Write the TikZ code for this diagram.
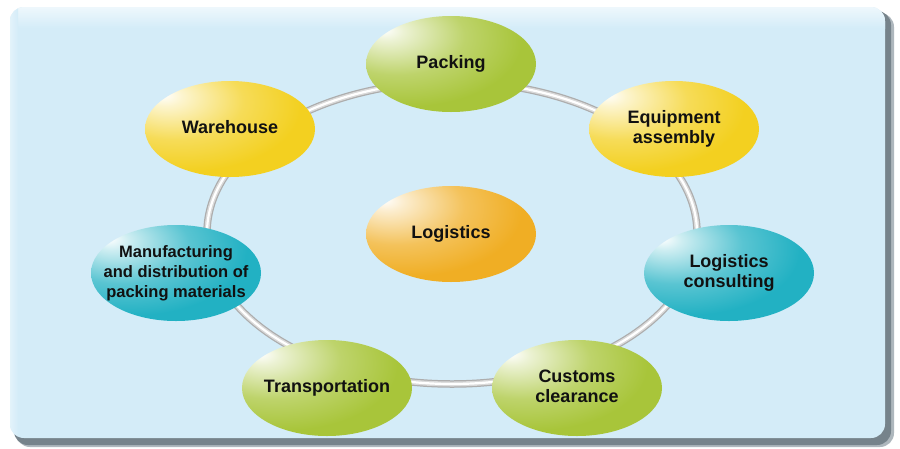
\documentclass[tikz,border=0pt]{standalone}
\usepackage{fontspec}
\setmainfont{Liberation Sans}
\usetikzlibrary{shapes.geometric}
\definecolor{cgreen}{HTML}{A8C53A}
\definecolor{cyellow}{HTML}{F3D020}
\definecolor{cteal}{HTML}{22B1C3}
\definecolor{corange}{HTML}{F0AE24}
\definecolor{panel}{HTML}{D4ECF8}
\definecolor{txt}{HTML}{111111}
\definecolor{shadowA}{HTML}{AEB7BD}
\definecolor{shadowB}{HTML}{76838B}
\pgfdeclareradialshading{glossgreen}{\pgfpoint{-20bp}{18bp}}{color(0bp)=(white); color(5bp)=(cgreen!22!white); color(20bp)=(cgreen!75!white); color(34bp)=(cgreen); color(100bp)=(cgreen)}
\pgfdeclareradialshading{glossyellow}{\pgfpoint{-20bp}{18bp}}{color(0bp)=(white); color(5bp)=(cyellow!22!white); color(20bp)=(cyellow!75!white); color(34bp)=(cyellow); color(100bp)=(cyellow)}
\pgfdeclareradialshading{glossteal}{\pgfpoint{-20bp}{18bp}}{color(0bp)=(white); color(5bp)=(cteal!22!white); color(20bp)=(cteal!75!white); color(34bp)=(cteal); color(100bp)=(cteal)}
\pgfdeclareradialshading{glossorange}{\pgfpoint{-20bp}{18bp}}{color(0bp)=(white); color(5bp)=(corange!22!white); color(20bp)=(corange!75!white); color(34bp)=(corange); color(100bp)=(corange)}
\newcommand{\ctext}[1]{\makebox[0pt]{\begin{tabular}{@{}c@{}}#1\end{tabular}}}
\tikzset{
  bub/.style={ellipse, minimum width=170pt, minimum height=96pt, inner sep=0pt,
    text=txt, font=\bfseries\fontsize{18}{20}\selectfont},
  gbub/.style={bub, shade, shading=glossgreen},
  ybub/.style={bub, shade, shading=glossyellow},
  tbub/.style={bub, shade, shading=glossteal},
  obub/.style={bub, shade, shading=glossorange},
  smalltxt/.style={font=\bfseries\fontsize{16.5}{20}\selectfont},
  tubeA/.style={line width=7.5pt, draw=black!32},
  tubeB/.style={line width=5pt, draw=black!15},
  tubeC/.style={line width=2.2pt, draw=white},
}
\begin{document}
\begin{tikzpicture}[x=1pt, y=-1pt]
\useasboundingbox (0,0) rectangle (900,448);
\fill[white] (0,0) rectangle (900,448);
% panel shadow
\fill[shadowA, rounded corners=14pt] (16,13) rectangle (894,447);
\fill[shadowB, rounded corners=14pt] (14,11) rectangle (891,445);
% panel
\fill[panel, rounded corners=14pt] (10,7) rectangle (885,438);
\begin{scope}
  \clip[rounded corners=14pt] (10,7) rectangle (885,438);
  \shade[top color=panel!40!white, bottom color=panel] (10,7) rectangle (885,28);
  \shade[left color=panel!65!white, right color=panel] (10,7) rectangle (18,438);
\end{scope}
% ring
\coordinate (rc) at (452,233);
\draw[tubeA] (rc) ellipse [x radius=245pt, y radius=151pt];
\draw[tubeB] (rc) ellipse [x radius=245pt, y radius=151pt];
\draw[tubeC] (rc) ellipse [x radius=245pt, y radius=151pt];
% nodes
\node[gbub] (packing) at (451,64) {\ctext{Packing}};
\node[ybub] (warehouse) at (230,129) {\ctext{Warehouse}};
\node[ybub] (equip) at (674,129) {\ctext{Equipment\\assembly}};
\node[tbub, smalltxt] (manuf) at (176,273) {\ctext{Manufacturing\\and distribution of\\packing materials}};
\node[tbub] (consult) at (729,273) {\ctext{Logistics\\consulting}};
\node[gbub] (transp) at (327,388) {\ctext{Transportation}};
\node[gbub] (customs) at (577,388) {\ctext{Customs\\clearance}};
\node[obub] (logistics) at (451,234) {\ctext{Logistics}};
\end{tikzpicture}
\end{document}
